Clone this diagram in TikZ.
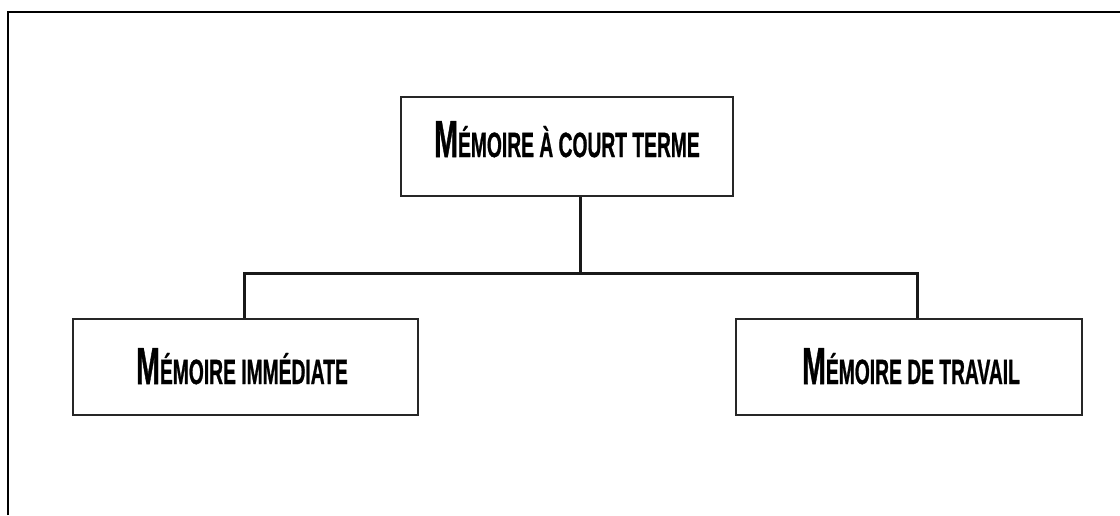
\documentclass[tikz,border=0pt]{standalone}
\usepackage{fontspec}
\setmainfont{Liberation Sans}[BoldFeatures={FakeBold=1.2}]
\usepackage{graphicx}

% condensed small-caps style label: large initial, smaller capitals
\newcommand\capslabel[2]{\scalebox{0.55}[1]{\bfseries\fontsize{52}{60}\selectfont #1\fontsize{35}{40}\selectfont #2}}

\tikzset{
  framebox/.style={draw=black!85, line width=2.4pt, fill=white, inner sep=0pt},
  link/.style={draw=black!90, line width=3pt},
  rim/.style={draw=black, line width=2.2pt}
}

\begin{document}
\begin{tikzpicture}[x=1pt, y=-1pt]
  \useasboundingbox (0,0) rectangle (1120,515);

  % outer frame: top and left edges only
  \draw[rim] (8,515) -- (8,12) -- (1120,12);

  % boxes
  \node[framebox, minimum width=332pt, minimum height=99pt] (top) at (567,146.5) {};
  \node[framebox, minimum width=345pt, minimum height=96pt] (left) at (245.5,367) {};
  \node[framebox, minimum width=346pt, minimum height=96pt] (right) at (909,367) {};

  % labels
  \node[anchor=base, inner sep=0pt] (toplabel) at (567,157) {\capslabel{M}{ÉMOIRE À COURT TERME}};
  \node[anchor=base, inner sep=0pt] (leftlabel) at (242,384) {\capslabel{M}{ÉMOIRE IMMÉDIATE}};
  \node[anchor=base, inner sep=0pt] (rightlabel) at (911,384) {\capslabel{M}{ÉMOIRE DE TRAVAIL}};

  % connector tree
  \coordinate (bus) at (580,273);
  \coordinate (busleft) at (244,273);
  \coordinate (busright) at (917,273);
  \draw[link] (top.south -| bus) -- (bus);
  \draw[link] (busleft |- left.north) -- (busleft) -- (busright) -- (busright |- right.north);
\end{tikzpicture}
\end{document}
